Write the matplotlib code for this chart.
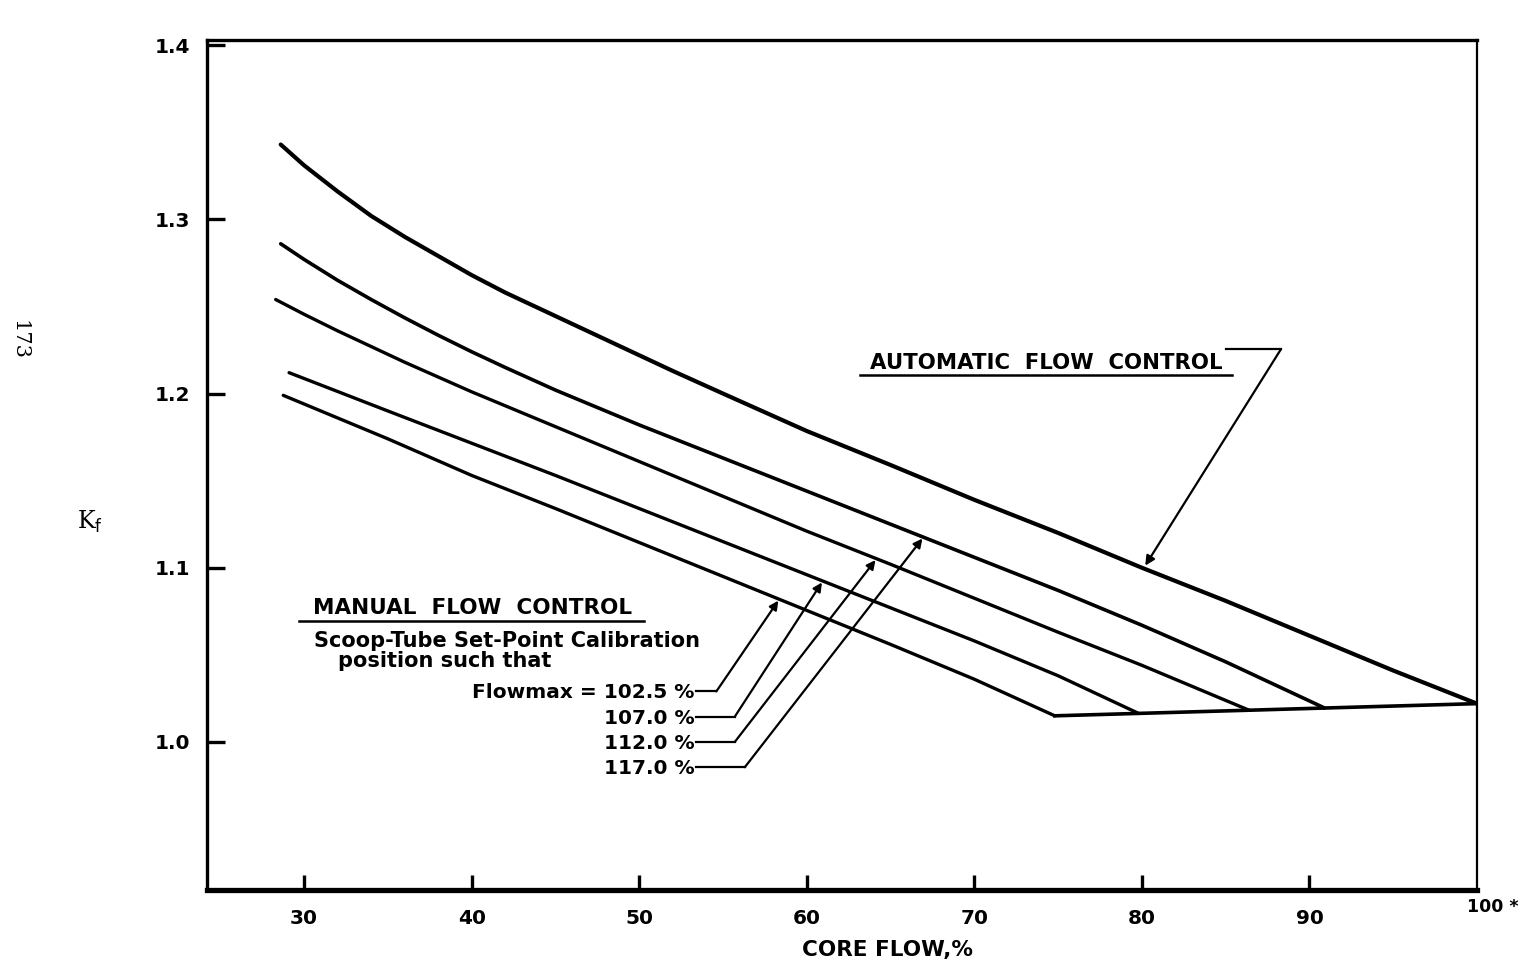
import numpy as np
import matplotlib
matplotlib.use("Agg")
import matplotlib.pyplot as plt

# ---------------- data ----------------
auto_x = [28.6, 30, 32, 34, 36, 38, 40, 42, 44, 46, 48, 50, 52, 55, 60, 65, 70, 75, 80, 85, 90, 95, 100]
auto_y = [1.343, 1.331, 1.316, 1.302, 1.290, 1.279, 1.268, 1.258, 1.249, 1.240, 1.231, 1.222, 1.213,
          1.200, 1.1785, 1.159, 1.139, 1.120, 1.100, 1.081, 1.061, 1.041, 1.022]

m117_x = [28.6, 30, 32, 34, 36, 38, 40, 42, 45, 50, 55, 60, 65, 70, 75, 80, 85, 90.9]
m117_y = [1.286, 1.277, 1.265, 1.254, 1.2435, 1.2335, 1.224, 1.215, 1.202, 1.182, 1.163, 1.144,
          1.125, 1.106, 1.087, 1.067, 1.046, 1.0195]

m112_x = [28.3, 30, 32, 34, 36, 38, 40, 42, 45, 50, 55, 60, 65, 70, 75, 80, 86.4]
m112_y = [1.254, 1.2455, 1.236, 1.227, 1.218, 1.2095, 1.201, 1.193, 1.181, 1.161, 1.141, 1.121,
          1.102, 1.0825, 1.063, 1.044, 1.0182]

m107_x = [29.1, 35, 40, 45, 50, 55, 60, 65, 70, 75, 79.8]
m107_y = [1.212, 1.190, 1.1715, 1.153, 1.134, 1.115, 1.096, 1.077, 1.058, 1.038, 1.0164]

m102_x = [28.75, 32, 35, 40, 45, 50, 55, 60, 65, 70, 74.8]
m102_y = [1.199, 1.186, 1.174, 1.153, 1.134, 1.1145, 1.095, 1.0755, 1.056, 1.036, 1.015]

floor_x = [74.8, 100.0]
floor_y = [1.015, 1.022]

x_ticks = [30, 40, 50, 60, 70, 80, 90]
y_ticks = [1.0, 1.1, 1.2, 1.3, 1.4]
flowmax_labels = ["Flowmax = 102.5 %", "107.0 %", "112.0 %", "117.0 %"]

# ---------------- figure ----------------
W, H = 1522, 965
fig = plt.figure(figsize=(W / 100, H / 100), dpi=100)
fig.patch.set_facecolor("white")
L, R, T, B = 207, 1477, 40, 890
ax = fig.add_axes([L / W, 1 - B / H, (R - L) / W, (B - T) / H])
ax.set_xlim(24.2, 100.0)
ax.set_ylim(0.915, 1.403)

FONT = "DejaVu Sans"
for s, lw in (("left", 2.4), ("top", 2.4), ("right", 1.6), ("bottom", 3.8)):
    ax.spines[s].set_linewidth(lw)
    ax.spines[s].set_color("black")

ax.set_xticks(x_ticks)
ax.set_xticklabels([str(v) for v in x_ticks], fontsize=14.5, fontweight="bold", family=FONT)
ax.set_yticks(y_ticks)
ax.set_yticklabels(["%.1f" % v for v in y_ticks], fontsize=14.5, fontweight="bold", family=FONT)
ax.tick_params(axis="x", direction="in", length=11, width=2.4, pad=14)
ax.tick_params(axis="y", direction="in", length=13, width=2.4, pad=12)

fig.text(1519 / W, 1 - 907 / H, "100 *", ha="right", va="center",
         fontsize=12.5, fontweight="bold", family=FONT)
fig.text(887 / W, 1 - 950 / H, "CORE FLOW,%", ha="center", va="center",
         fontsize=15.5, fontweight="bold", family=FONT)

# ---------------- curves ----------------
ax.plot(auto_x, auto_y, color="black", lw=3.0, solid_capstyle="round")
ax.plot(m117_x, m117_y, color="black", lw=2.6, solid_capstyle="round")
ax.plot(m112_x, m112_y, color="black", lw=2.4, solid_capstyle="round")
ax.plot(m107_x, m107_y, color="black", lw=2.4, solid_capstyle="round")
ax.plot(m102_x, m102_y, color="black", lw=2.4, solid_capstyle="round")
ax.plot(floor_x, floor_y, color="black", lw=2.6)

# ---------------- annotations ----------------
ax.text(63.8, 1.2140, "AUTOMATIC  FLOW  CONTROL", fontsize=15.3, fontweight="bold", family=FONT,
        ha="left", va="baseline")
ax.plot([63.2, 85.4], [1.2105, 1.2105], color="black", lw=1.8)
tip_x = 80.2
tip_y = float(np.interp(tip_x, auto_x, auto_y))
ax.plot([85.0, 88.3], [1.2255, 1.2255], color="black", lw=1.6)
ax.annotate("", xy=(tip_x, tip_y + 0.002), xytext=(88.3, 1.2255),
            arrowprops=dict(arrowstyle="-|>", color="black", lw=1.6, mutation_scale=14,
                            shrinkA=0, shrinkB=0))

ax.text(30.5, 1.0735, "MANUAL  FLOW  CONTROL", fontsize=15.5, fontweight="bold", family=FONT,
        ha="left", va="baseline")
ax.plot([29.7, 50.3], [1.0695, 1.0695], color="black", lw=1.8)
ax.text(30.6, 1.0545, "Scoop-Tube Set-Point Calibration", fontsize=15, fontweight="bold",
        family=FONT, ha="left", va="baseline")
ax.text(32.0, 1.0430, "position such that", fontsize=15, fontweight="bold",
        family=FONT, ha="left", va="baseline")

label_y = [1.0250, 1.0105, 0.9960, 0.9815]
elbow_x = [54.6, 55.7, 55.7, 56.3]
tips_x = [58.3, 60.9, 64.1, 66.9]
curves = [(m102_x, m102_y), (m107_x, m107_y), (m112_x, m112_y), (m117_x, m117_y)]
for lab, ly, ex, tx, (cx, cy) in zip(flowmax_labels, label_y, elbow_x, tips_x, curves):
    ax.text(53.3, ly, lab, fontsize=14.5, fontweight="bold", family=FONT, ha="right", va="baseline")
    ly2 = ly + 0.004
    ax.plot([53.4, ex], [ly2, ly2], color="black", lw=1.6)
    ty = float(np.interp(tx, cx, cy))
    ax.annotate("", xy=(tx, ty - 0.001), xytext=(ex, ly2),
                arrowprops=dict(arrowstyle="-|>", color="black", lw=1.6, mutation_scale=13,
                                shrinkA=0, shrinkB=0))

# ---------------- page marks ----------------
fig.text(90 / W, 1 - 522 / H, r"K$_{\mathrm{f}}$", fontsize=17, family="DejaVu Serif",
         ha="center", va="center")
fig.text(19 / W, 1 - 340 / H, "173", fontsize=15, family="DejaVu Serif", rotation=-90,
         ha="center", va="center")

fig.savefig("out.png", dpi=100, facecolor="white")
